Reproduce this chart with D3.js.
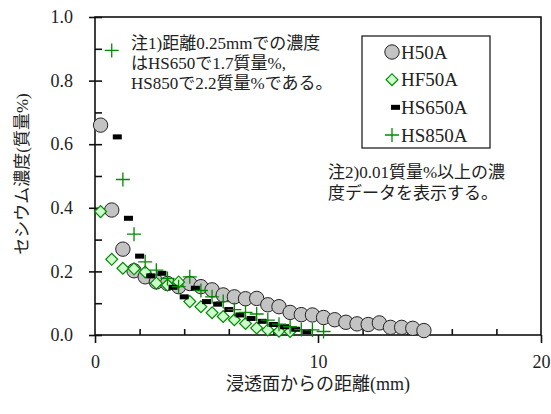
<!DOCTYPE html>
<html>
<head>
<meta charset="utf-8">
<script src="https://cdn.jsdelivr.net/npm/d3@7"></script>
<style>
  body { margin: 0; background: #fff; }
  svg text { font-family: "Liberation Serif", "Noto Sans CJK JP", serif; fill: #222; }
</style>
</head>
<body>
<script>
// data
var h50aX = [0.25, 0.75, 1.25, 1.75, 2.25, 2.75, 3.25, 3.75, 4.25, 4.75, 5.25, 5.75, 6.25, 6.75, 7.25,
             7.75, 8.25, 8.75, 9.25, 9.75, 10.25, 10.75, 11.25, 11.75, 12.25, 12.75, 13.25, 13.75, 14.25, 14.75];
var h50aY = [0.66, 0.393, 0.27, 0.202, 0.183, 0.167, 0.162, 0.152, 0.162, 0.152, 0.142, 0.126, 0.12, 0.114, 0.115,
             0.095, 0.089, 0.071, 0.064, 0.063, 0.055, 0.048, 0.04, 0.035, 0.033, 0.038, 0.024, 0.024, 0.021, 0.014];

var hf50aX = [0.25, 0.75, 1.25, 1.75, 2.25, 2.75, 3.25, 3.75, 4.25, 4.75, 5.25, 5.75, 6.25, 6.75, 7.25, 7.75, 8.25, 8.75];
var hf50aY = [0.388, 0.238, 0.21, 0.208, 0.198, 0.163, 0.157, 0.167, 0.105, 0.089, 0.07, 0.058, 0.048, 0.036, 0.022, 0.016, 0.012, 0.011];

var hs650aX = [1.0, 1.5, 2.0, 2.5, 3.0, 3.5, 4.0, 4.5, 5.0, 5.5, 6.0, 6.5, 7.0, 7.5, 8.0, 8.5, 9.0, 9.5];
var hs650aY = [0.623, 0.367, 0.248, 0.186, 0.194, 0.15, 0.12, 0.147, 0.105, 0.097, 0.08, 0.063, 0.052, 0.043, 0.033, 0.026, 0.018, 0.011];

var hs850aX = [0.75, 1.25, 1.75, 2.25, 2.75, 3.25, 3.75, 4.25, 4.75, 5.25, 5.75, 6.25, 6.75, 7.25, 7.75, 8.25, 8.75, 9.25, 9.75, 10.25];
var hs850aY = [0.895, 0.489, 0.317, 0.23, 0.204, 0.178, 0.152, 0.183, 0.14, 0.12, 0.105, 0.08, 0.071, 0.066, 0.047, 0.034, 0.026, 0.017, 0.016, 0.011];

var seriesNames = ["H50A", "HF50A", "HS650A", "HS850A"];
var yTicks = [0, 0.2, 0.4, 0.6, 0.8, 1.0];
var yMinor = [0.1, 0.3, 0.5, 0.7, 0.9];
var xTicks = [0, 10, 20];
var xMinor = [2, 4, 6, 8, 12, 14, 16, 18];

var note1 = ["注1)距離0.25mmでの濃度", "はHS650で1.7質量%,", "HS850で2.2質量%である。"];
var note2 = ["注2)0.01質量%以上の濃", "度データを表示する。"];

function zip(xs, ys) {
    return xs.map(function(v, i) { return { x: v, y: ys[i] }; });
}

var W = 551, H = 414;
var plotL = 95, plotR = 541, plotT = 17, plotB = 335;

var svg = d3.select("body").append("svg")
    .attr("width", W)
    .attr("height", H);

var x = d3.scaleLinear().domain([0, 20]).range([plotL, plotR]);
var y = d3.scaleLinear().domain([0, 1]).range([plotB, plotT]);

// plot frame
svg.append("rect")
    .attr("x", plotL).attr("y", plotT)
    .attr("width", plotR - plotL).attr("height", plotB - plotT)
    .attr("fill", "#fff")
    .attr("stroke", "#111")
    .attr("stroke-width", 1.6);

// y axis: labels + outward major ticks
var gy = svg.append("g").attr("transform", "translate(" + plotL + ",0)")
    .call(d3.axisLeft(y).tickValues(yTicks).tickSize(6).tickPadding(16).tickFormat(d3.format(".1f")));
// inward ticks
var gyIn = svg.append("g").attr("transform", "translate(" + plotL + ",0)")
    .call(d3.axisRight(y).tickValues(yTicks.concat(yMinor)).tickSize(7).tickFormat(""));

// x axis
var gx = svg.append("g").attr("transform", "translate(0," + plotB + ")")
    .call(d3.axisBottom(x).tickValues(xTicks).tickSize(8).tickPadding(12).tickFormat(d3.format("d")));
var gxIn = svg.append("g").attr("transform", "translate(0," + plotB + ")")
    .call(d3.axisTop(x).tickValues(xMinor).tickSize(6).tickFormat(""));

[gy, gyIn, gx, gxIn].forEach(function(g) {
    g.select(".domain").remove();
    g.selectAll(".tick line").attr("stroke", "#111").attr("stroke-width", 1.6);
    g.selectAll(".tick text").style("font-size", "18px");
});

// axis titles
svg.append("text")
    .attr("x", 318).attr("y", 390)
    .attr("text-anchor", "middle")
    .style("font-size", "18px")
    .text("浸透面からの距離(mm)");

svg.append("text")
    .attr("transform", "translate(28,174) rotate(-90)")
    .attr("text-anchor", "middle")
    .style("font-size", "17px")
    .text("セシウム濃度(質量%)");

// markers
var green = "#008a00";

svg.append("g").selectAll("circle")
    .data(zip(h50aX, h50aY))
    .enter()
    .append("circle")
    .attr("cx", function(d) { return x(d.x); })
    .attr("cy", function(d) { return y(d.y); })
    .attr("r", 7.2)
    .attr("fill", "#c3c3c3")
    .attr("stroke", "#222")
    .attr("stroke-width", 1);

var diamond = d3.symbol().type(d3.symbolSquare).size(70);
svg.append("g").selectAll("path")
    .data(zip(hf50aX, hf50aY))
    .enter()
    .append("path")
    .attr("d", diamond)
    .attr("transform", function(d) { return "translate(" + x(d.x) + "," + y(d.y) + ") rotate(45)"; })
    .attr("fill", "#ccffcc")
    .attr("stroke", green)
    .attr("stroke-width", 1.2);

svg.append("g").selectAll("rect")
    .data(zip(hs650aX, hs650aY))
    .enter()
    .append("rect")
    .attr("x", function(d) { return x(d.x) - 4.5; })
    .attr("y", function(d) { return y(d.y) - 2.5; })
    .attr("width", 9)
    .attr("height", 5)
    .attr("fill", "#000");

svg.append("g").selectAll("path")
    .data(zip(hs850aX, hs850aY))
    .enter()
    .append("path")
    .attr("d", "M-7,0H7M0,-7V7")
    .attr("transform", function(d) { return "translate(" + x(d.x) + "," + y(d.y) + ")"; })
    .attr("fill", "none")
    .attr("stroke", green)
    .attr("stroke-width", 1.3);

// notes
svg.append("g").selectAll("text")
    .data(note1)
    .enter()
    .append("text")
    .attr("x", 131)
    .attr("y", function(d, i) { return 49 + i * 20; })
    .style("font-size", "17px")
    .text(function(d) { return d; });

svg.append("g").selectAll("text")
    .data(note2)
    .enter()
    .append("text")
    .attr("x", 328)
    .attr("y", function(d, i) { return 178 + i * 21; })
    .style("font-size", "17px")
    .text(function(d) { return d; });

// legend
var lg = svg.append("g");
lg.append("rect")
    .attr("x", 362).attr("y", 36)
    .attr("width", 128).attr("height", 112)
    .attr("fill", "#fff").attr("stroke", "#222").attr("stroke-width", 1.3);

var legendY = d3.scalePoint().domain(seriesNames).range([52, 135]);

lg.append("circle")
    .attr("cx", 392).attr("cy", legendY("H50A")).attr("r", 7.2)
    .attr("fill", "#c3c3c3").attr("stroke", "#222");
lg.append("path")
    .attr("d", diamond)
    .attr("transform", "translate(392," + legendY("HF50A") + ") rotate(45)")
    .attr("fill", "#ccffcc").attr("stroke", green).attr("stroke-width", 1.2);
lg.append("rect")
    .attr("x", 391).attr("y", legendY("HS650A") - 2.5)
    .attr("width", 9).attr("height", 5).attr("fill", "#000");
lg.append("path")
    .attr("d", "M-7,0H7M0,-7V7")
    .attr("transform", "translate(392," + legendY("HS850A") + ")")
    .attr("stroke", green).attr("stroke-width", 1.3);

lg.selectAll("text.lab")
    .data(seriesNames)
    .enter()
    .append("text")
    .attr("class", "lab")
    .attr("x", 401)
    .attr("y", function(d) { return legendY(d); })
    .attr("dy", "0.35em")
    .style("font-size", "19px")
    .text(function(d) { return d; });
</script>
</body>
</html>
